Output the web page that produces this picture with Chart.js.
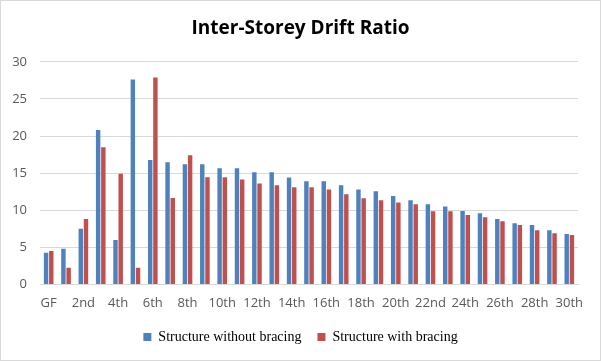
<!DOCTYPE html>
<html>
<head>
<meta charset="utf-8">
<script src="https://cdn.jsdelivr.net/npm/chart.js@4"></script>
<style>
  body { margin: 0; background: #fff; }
  #wrap { width: 599px; height: 359px; border: 1px solid #d9d9d9; }
</style>
</head>
<body>
<div id="wrap"><canvas id="myChart" width="599" height="359"></canvas></div>
<script>
const floors = ['GF', '1st', '2nd', '3rd', '4th', '5th', '6th', '7th', '8th', '9th', '10th',
  '11th', '12th', '13th', '14th', '15th', '16th', '17th', '18th', '19th', '20th',
  '21st', '22nd', '23rd', '24th', '25th', '26th', '27th', '28th', '29th', '30th'];

const withoutBracing = [4.25, 4.8, 7.5, 20.8, 6.0, 27.6, 16.75, 16.45, 16.2, 16.2, 15.65,
  15.65, 15.1, 15.1, 14.4, 13.9, 13.9, 13.35, 12.8, 12.55, 11.9,
  11.35, 10.8, 10.5, 9.9, 9.6, 8.8, 8.25, 8.0, 7.3, 6.8];

const withBracing = [4.5, 2.25, 8.8, 18.5, 14.9, 2.25, 27.9, 11.65, 17.4, 14.45, 14.45,
  14.15, 13.6, 13.35, 13.1, 13.1, 12.8, 12.15, 11.6, 11.35, 11.05,
  10.8, 9.85, 9.85, 9.35, 9.05, 8.5, 8.0, 7.3, 6.9, 6.65];

const yTicks = [0, 5, 10, 15, 20, 25, 30];

const ctx = document.getElementById('myChart');

new Chart(ctx, {
  type: 'bar',
  data: {
    labels: floors,
    datasets: [{
      label: 'Structure without bracing',
      data: withoutBracing,
      backgroundColor: '#4f81bd',
      categoryPercentage: 0.6,
      barPercentage: 0.85
    },
    {
      label: 'Structure with bracing',
      data: withBracing,
      backgroundColor: '#c0504d',
      categoryPercentage: 0.6,
      barPercentage: 0.85
    }]
  },
  options: {
    responsive: false,
    animation: false,
    layout: {
      padding: { left: 0, right: 0, top: 0, bottom: 6 }
    },
    plugins: {
      title: {
        display: true,
        text: 'Inter-Storey Drift Ratio',
        color: '#000',
        font: { family: 'Open Sans', size: 19, weight: 'bold' },
        padding: { top: 16, bottom: 22 }
      },
      legend: {
        position: 'bottom',
        labels: {
          color: '#000',
          boxWidth: 8,
          boxHeight: 8,
          padding: 16,
          font: { family: 'Liberation Serif', size: 14 }
        }
      },
      tooltip: { enabled: false }
    },
    scales: {
      x: {
        grid: { display: false },
        border: { color: '#d9d9d9' },
        ticks: {
          autoSkip: false,
          maxRotation: 0,
          color: '#595959',
          font: { family: 'Open Sans', size: 13 },
          callback: function (val, i) {
            return i % 2 === 0 ? floors[i] : '';
          }
        }
      },
      y: {
        min: 0,
        max: 30,
        afterBuildTicks: function (axis) {
          axis.ticks = yTicks.map(v => ({ value: v }));
        },
        afterFit: function (axis) {
          axis.width = 39;
        },
        grid: { color: '#d9d9d9', drawTicks: false },
        border: { display: false },
        ticks: {
          color: '#595959',
          padding: 13,
          font: { family: 'Open Sans', size: 13 }
        }
      },
      // empty axis on the right, only used to keep the margin
      yRight: {
        position: 'right',
        grid: { display: false },
        border: { display: false },
        ticks: { display: false },
        afterFit: function (axis) {
          axis.width = 22;
        }
      }
    }
  }
});
</script>
</body>
</html>
